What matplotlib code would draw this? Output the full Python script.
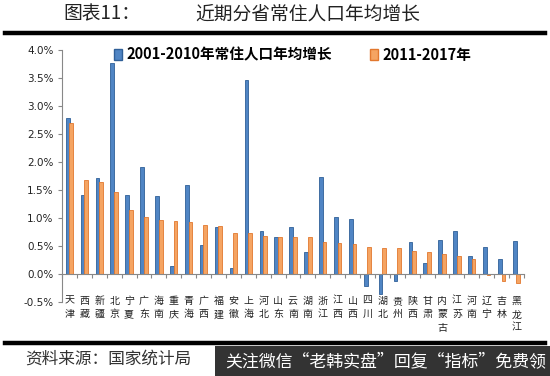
import numpy as np
import matplotlib.pyplot as plt
from matplotlib.patches import Rectangle
from matplotlib.lines import Line2D

plt.rcParams['font.family'] = ['Noto Sans CJK SC', 'DejaVu Sans']

provinces = ['天津', '西藏', '新疆', '北京', '宁夏', '广东', '海南', '重庆', '青海', '广西',
             '福建', '安徽', '上海', '河北', '山东', '云南', '湖南', '浙江', '江西', '山西',
             '四川', '湖北', '贵州', '陕西', '甘肃', '内蒙古', '江苏', '河南', '辽宁', '吉林', '黑龙江']
growth_2001_2010 = [2.78, 1.41, 1.71, 3.76, 1.41, 1.91, 1.40, 0.14, 1.58, 0.51,
                    0.83, 0.11, 3.46, 0.77, 0.66, 0.84, 0.39, 1.73, 1.01, 0.98,
                    -0.21, -0.36, -0.12, 0.57, 0.20, 0.60, 0.76, 0.32, 0.48, 0.27, 0.58]
growth_2011_2017 = [2.70, 1.67, 1.64, 1.47, 1.15, 1.01, 0.96, 0.95, 0.92, 0.87,
                    0.85, 0.74, 0.73, 0.68, 0.66, 0.66, 0.66, 0.57, 0.55, 0.53,
                    0.48, 0.46, 0.46, 0.41, 0.39, 0.36, 0.32, 0.27, -0.02, -0.13, -0.16]
y_ticks = [-0.5, 0.0, 0.5, 1.0, 1.5, 2.0, 2.5, 3.0, 3.5, 4.0]
label_a = '2001-2010年常住人口年均增长'
label_b = '2011-2017年'

blue = '#5085C4'
blue_edge = '#2F5F98'
orange = '#F5A462'
orange_edge = '#E2782E'

fig = plt.figure(figsize=(5.5, 3.76), dpi=100)
ax = fig.add_axes([0.1127, 0.197, 0.84, 0.670])

x = np.arange(len(provinces))
w = 0.25
ax.bar(x - 0.12, growth_2001_2010, w, color=blue, edgecolor=blue_edge, linewidth=0.6)
ax.bar(x + 0.12, growth_2011_2017, w, color=orange, edgecolor=orange_edge, linewidth=0.6)

ax.set_xlim(-0.5, len(provinces) - 0.5)
ax.set_ylim(-0.5, 4.0)
ax.set_yticks(y_ticks)
ax.set_yticklabels([f'{v:.1f}%' for v in y_ticks], fontsize=7.5, color='#222222',
                   family=['DejaVu Sans'])
ax.tick_params(axis='y', length=3, color='#888888', pad=3)

for s in ['top', 'right']:
    ax.spines[s].set_visible(False)
ax.spines['left'].set_color('#888888')
ax.spines['bottom'].set_position(('data', 0))
ax.spines['bottom'].set_color('#888888')
ax.set_xticks(np.arange(-0.5, len(provinces)), minor=False)
ax.set_xticklabels([])
ax.tick_params(axis='x', length=3, color='#888888', direction='out')

for i, name in enumerate(provinces):
    ax.text(i, -0.39, '\n'.join(name), ha='center', va='top', fontsize=7.2,
            color='#222222', linespacing=1.45)

handles = [Rectangle((0, 0), 1, 1, facecolor=blue, edgecolor=blue_edge),
           Rectangle((0, 0), 1, 1, facecolor=orange, edgecolor=orange_edge)]
leg = ax.legend(handles, [label_a, label_b], ncol=2, frameon=False,
                loc='upper left', bbox_to_anchor=(0.085, 1.065),
                prop={'size': 10.5, 'weight': 'bold'}, handlelength=0.55,
                handleheight=0.8, handletextpad=0.3, columnspacing=2.6)

# title and rules
fig.text(0.115, 0.963, '图表11：', fontsize=13.5, va='center', color='#222222')
fig.text(0.355, 0.963, '近期分省常住人口年均增长', fontsize=13.5, va='center', color='#222222')
fig.add_artist(Line2D([0.009, 0.99], [0.912, 0.912], color='black', lw=3.2))
fig.add_artist(Line2D([0.009, 0.99], [0.088, 0.088], color='black', lw=3.2))
fig.text(0.045, 0.045, '资料来源：国家统计局', fontsize=12, va='center', color='#333333',
         style='italic')

# watermark banner
fig.add_artist(Rectangle((0.39, 0.0), 0.61, 0.08, transform=fig.transFigure,
                         facecolor='#333333', edgecolor='none'))
fig.text(0.41, 0.04, '关注微信“老韩实盘”回复“指标”免费领', fontsize=12.2, va='center',
         color='white')

fig.savefig('out.png', dpi=100)
